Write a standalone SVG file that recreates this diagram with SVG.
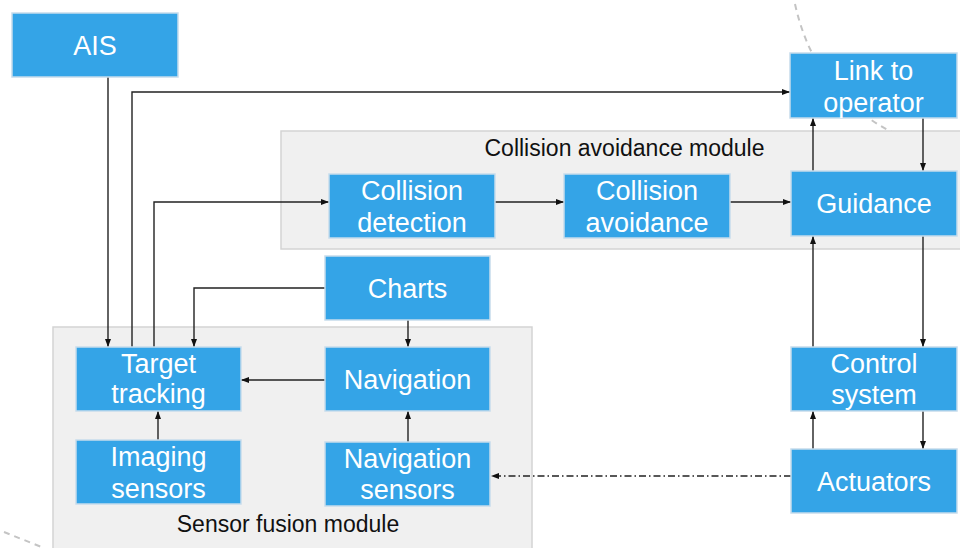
<svg xmlns="http://www.w3.org/2000/svg" width="960" height="548" viewBox="0 0 960 548">
  <defs>
    <marker id="arrow" viewBox="0 0 8 6" refX="8" refY="3" markerWidth="8" markerHeight="6" markerUnits="userSpaceOnUse" orient="auto">
      <path d="M0,0 L8,3 L0,6 z" fill="#111"/>
    </marker>
    <style>
      .module { fill: #f0f0f0; stroke: #d4d4d4; stroke-width: 1.5; }
      .box { fill: #34a4e7; stroke: #c6dcec; stroke-width: 1.5; }
      .label { font-family: "Liberation Sans", Arial, sans-serif; font-size: 27px; fill: #ffffff; text-anchor: middle; }
      .mlabel { font-family: "Liberation Sans", Arial, sans-serif; font-size: 23px; fill: #111111; text-anchor: middle; }
      .edge { fill: none; stroke: #222222; stroke-width: 1.4; marker-end: url(#arrow); }
      .dashdot { stroke-dasharray: 7 3 1.5 3; }
      .deco { fill: none; stroke: #c4c4c4; stroke-width: 2; stroke-dasharray: 6 5; }
    </style>
  </defs>

  <rect width="960" height="548" fill="#ffffff"/>

  <!-- faint decorative arcs in the background -->
  <path class="deco" d="M795,4 Q815,95 896,134"/>
  <path class="deco" d="M4,532 L44,548"/>

  <!-- module backgrounds -->
  <g id="collision-avoidance-module">
    <rect class="module" x="281" y="131" width="685" height="118"/>
    <text class="mlabel" x="624.5" y="156">Collision avoidance module</text>
  </g>
  <g id="sensor-fusion-module">
    <rect class="module" x="53" y="327" width="479" height="230"/>
    <text class="mlabel" x="288" y="532">Sensor fusion module</text>
  </g>

  <!-- connectors -->
  <g id="connectors">
    <path class="edge" d="M108,77 V347"/>
    <path class="edge" d="M132,347 V92 H790"/>
    <path class="edge" d="M154,347 V202 H329"/>
    <path class="edge" d="M495,202 H564"/>
    <path class="edge" d="M730,202 H791"/>
    <path class="edge" d="M813,171 V118"/>
    <path class="edge" d="M923,118 V171"/>
    <path class="edge" d="M923,236 V347"/>
    <path class="edge" d="M813,347 V236"/>
    <path class="edge" d="M813,449 V411"/>
    <path class="edge" d="M923,411 V449"/>
    <path class="edge dashdot" d="M791,476 H491"/>
    <path class="edge" d="M325,288 H194 V347"/>
    <path class="edge" d="M408,320 V347"/>
    <path class="edge" d="M325,380 H241"/>
    <path class="edge" d="M158,440 V411"/>
    <path class="edge" d="M408,442 V411"/>
  </g>

  <!-- nodes -->
  <g id="ais">
    <rect class="box" x="12" y="13" width="166" height="64"/>
    <text class="label" x="95" y="55">AIS</text>
  </g>
  <g id="link-to-operator">
    <rect class="box" x="790" y="53" width="167" height="65"/>
    <text class="label" x="873.5" y="80">Link to</text>
    <text class="label" x="873.5" y="112">operator</text>
  </g>
  <g id="collision-detection">
    <rect class="box" x="329" y="174" width="166" height="64"/>
    <text class="label" x="412" y="200">Collision</text>
    <text class="label" x="412" y="232">detection</text>
  </g>
  <g id="collision-avoidance">
    <rect class="box" x="564" y="174" width="166" height="64"/>
    <text class="label" x="647" y="200">Collision</text>
    <text class="label" x="647" y="232">avoidance</text>
  </g>
  <g id="guidance">
    <rect class="box" x="791" y="171" width="166" height="65"/>
    <text class="label" x="874" y="213">Guidance</text>
  </g>
  <g id="charts">
    <rect class="box" x="325" y="256" width="165" height="64"/>
    <text class="label" x="407.5" y="298">Charts</text>
  </g>
  <g id="target-tracking">
    <rect class="box" x="76" y="347" width="165" height="64"/>
    <text class="label" x="158.5" y="373">Target</text>
    <text class="label" x="158.5" y="403">tracking</text>
  </g>
  <g id="navigation">
    <rect class="box" x="325" y="347" width="165" height="64"/>
    <text class="label" x="407.5" y="389">Navigation</text>
  </g>
  <g id="imaging-sensors">
    <rect class="box" x="76" y="440" width="165" height="64"/>
    <text class="label" x="158.5" y="466">Imaging</text>
    <text class="label" x="158.5" y="498">sensors</text>
  </g>
  <g id="navigation-sensors">
    <rect class="box" x="325" y="442" width="165" height="64"/>
    <text class="label" x="407.5" y="468">Navigation</text>
    <text class="label" x="407.5" y="499">sensors</text>
  </g>
  <g id="control-system">
    <rect class="box" x="791" y="347" width="166" height="64"/>
    <text class="label" x="874" y="373">Control</text>
    <text class="label" x="874" y="404">system</text>
  </g>
  <g id="actuators">
    <rect class="box" x="791" y="449" width="166" height="64"/>
    <text class="label" x="874" y="491">Actuators</text>
  </g>
</svg>
